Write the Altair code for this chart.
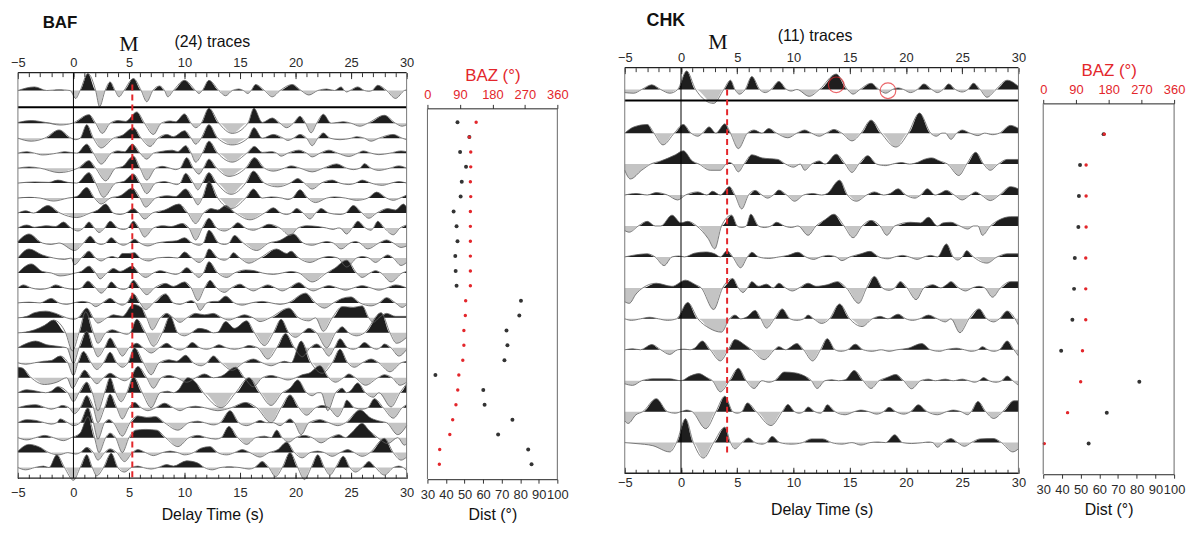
import altair as alt
import pandas as pd

FONT = "Liberation Sans"
SERIF = "Liberation Serif"
RED = "#e3262b"
POS_FILL = "#1e1e1e"
NEG_FILL = "#c4c4c4"
OUTLINE = "#5e5e5e"

TIME_MIN, TIME_MAX = -5, 30
TIME_MAJOR = list(range(-5, 31, 5))
TIME_MINOR = list(range(-5, 31, 1))
DIST_TICKS = list(range(30, 101, 10))
BAZ_TICKS = [0, 90, 180, 270, 360]

BAF_M_TIME = 5.3
CHK_M_TIME = 4.1

# ---------------- BAF: stacked trace + 24 traces (time s, amplitude in trace spacings)
BAF_STACK = [(-5,0),(-3.5,0.24),(-2.4,0),(-1.3,0.05),(-0.3,0),(0.2,-0.53),(0.6,0),(1.3,1.13),(2.0,0),(2.35,-1.08),(2.85,0),(3.3,0.57),(3.75,0),(4.1,-0.42),(4.55,0),(5.4,0.8),(6.1,0),(6.6,-0.75),(7.15,0),(7.75,0.3),(8.2,0),(8.5,-0.42),(9.0,0),(10.0,0.68),(11.0,0),(11.3,-0.2),(11.6,0),(12.2,0.68),(13.1,0),(13.7,-0.35),(14.3,0),(14.9,0.1),(15.3,0),(15.7,-0.2),(16.0,0),(16.4,0.4),(17.2,0),(17.9,-0.42),(18.6,0),(19.7,0.4),(20.5,0),(21.2,-0.3),(22.0,0),(22.8,0.1),(23.5,0),(24.1,0.24),(24.4,0),(24.6,-0.1),(24.9,0),(25.6,0.24),(26.2,0),(26.6,-0.05),(26.9,0),(27.4,0.35),(28.2,0),(29.0,-0.53),(29.8,0),(30,0.05)]
BAF_R01 = [(-5,0.05),(-3.8,0.18),(-2.5,0.05),(-1.2,-0.12),(-0.1,0),(1.4,0.57),(2.0,0),(2.6,-0.68),(3.3,0),(4.0,0.18),(4.7,0.12),(5.7,0.75),(6.4,0),(7.2,-0.75),(7.9,0),(8.7,0.15),(9.2,0.1),(10.0,0.62),(10.6,0),(11.0,-0.3),(11.5,0),(12.2,1.0),(13.1,0),(14.3,-0.68),(15.7,0),(16.25,1.0),(17.0,0.05),(17.9,0.35),(18.6,0),(19.2,-0.3),(19.8,0),(20.4,0.46),(20.9,0),(21.4,-0.64),(21.9,0),(22.5,0.6),(23.2,0),(24.3,0.1),(25.0,0),(25.8,-0.2),(26.5,0),(28.0,0.53),(29.0,0),(29.6,-0.2),(30,-0.1)]
BAF_R02 = [(-5,0),(-3.8,-0.2),(-2.6,0),(-1.3,0.55),(-0.2,0),(0.2,-0.1),(0.6,0),(1.2,0.9),(1.8,0),(2.5,-0.65),(3.6,0),(4.4,0.2),(5.4,0.7),(6.1,0),(6.9,-0.55),(7.6,0),(8.4,0.25),(9.0,0.1),(10.0,0.5),(10.6,0),(11.0,-0.4),(11.5,0),(12.2,0.9),(13.0,0),(14.3,-0.45),(15.7,0),(16.25,0.7),(17.0,0),(18.0,0.25),(18.9,0),(19.3,-0.15),(19.8,0),(20.4,0.25),(21.0,0),(21.5,-0.5),(22.0,0),(22.5,0.35),(23.1,0),(24.0,-0.1),(25.0,0),(25.5,0.1),(26.2,0),(26.8,-0.2),(27.5,0),(28.8,0.25),(29.6,0),(30,-0.1)]
BAF_R03 = [(-5,0),(-4.2,0.1),(-3.5,0),(-2.8,-0.12),(-1.5,0),(-0.8,0.1),(0.3,0),(1.2,0.6),(1.8,0),(2.5,-0.73),(3.4,0),(4.0,0.15),(4.6,0.1),(5.3,0.6),(6.0,0),(6.6,-0.4),(7.2,0),(7.8,0.1),(8.9,0.2),(9.4,0.1),(10.1,0.5),(10.6,0),(11.0,-0.6),(11.6,0),(12.2,0.8),(13.0,0),(14.3,-0.6),(15.6,0),(16.3,0.45),(17.0,0.05),(17.9,0.1),(18.3,0),(18.7,-0.2),(19.3,0),(20.3,0.2),(21.0,0),(21.5,-0.25),(22.2,0),(23.0,0.2),(23.8,0),(24.8,-0.22),(25.6,0),(26.1,0.15),(26.8,0),(27.5,-0.1),(28.5,0),(29.5,0.15),(30,0.1)]
BAF_R04 = [(-5,0),(-4,0.08),(-3,0),(-1.3,-0.3),(0.4,0),(1.4,0.5),(2.0,0),(2.9,-0.85),(3.8,0),(4.4,0.1),(5.4,0.8),(6.0,0),(6.6,-0.8),(7.4,0),(8.0,0.12),(8.7,0),(9.2,-0.1),(9.6,0),(10.2,0.7),(10.8,0),(11.3,-0.4),(11.7,0),(12.2,0.6),(12.9,0),(14.0,-0.55),(15.5,0),(16.3,0.7),(17.2,0),(18.0,-0.2),(19.0,0),(19.6,0.15),(20.4,0),(21.5,-0.25),(22.5,0),(23.7,0.28),(24.6,0),(25.2,-0.1),(25.8,0),(26.2,0.3),(26.8,0),(27.5,-0.15),(28.5,0),(29.3,0.15),(30,0)]
BAF_R05 = [(-5,0),(-3.5,0.08),(-2.2,0.05),(-1.4,0.2),(-0.5,0.05),(0.3,0),(1.4,0.7),(2.0,0),(2.7,-0.95),(3.8,0),(4.5,0.1),(5.4,0.6),(6.0,0),(6.6,-0.7),(7.4,0),(8.2,0.1),(8.8,0),(9.3,-0.1),(9.6,0),(10.1,0.65),(10.8,0),(11.2,-0.45),(11.6,0),(12.2,0.7),(12.9,0),(14.2,-0.75),(15.5,0),(16.2,0.8),(17.2,0),(18.4,-0.25),(19.5,0),(20.2,0.3),(20.8,0),(21.5,-0.4),(22.3,0),(23.3,0.2),(24.0,0),(24.8,-0.1),(25.4,0),(26.0,0.2),(26.8,0),(27.8,-0.15),(28.6,0),(29.3,0.1),(30,0)]
BAF_R06 = [(-5,0),(-4,0.05),(-3,0),(-1.8,-0.2),(-0.5,0),(0.3,0.1),(1.2,0.7),(1.9,0),(2.5,-0.4),(3.3,0),(4.2,0.15),(5.3,0.66),(6.0,0),(6.5,-0.6),(7.4,0),(8.4,0.15),(9.2,0.1),(10.1,0.6),(10.8,0),(11.2,-0.45),(11.6,0),(12.2,1.1),(13.0,0),(14.2,-0.7),(15.5,0),(16.2,0.6),(17.0,0),(17.8,0.08),(18.8,0),(19.3,-0.1),(19.7,0),(20.4,0.55),(21.1,0),(21.8,-0.3),(22.8,0),(23.5,0.08),(24.5,0),(25.5,-0.15),(26.5,0),(27.3,0.4),(28.2,0),(28.8,-0.15),(29.4,0),(30,0.2)]
BAF_R07 = [(-5,0),(-4.3,0.15),(-3.6,0),(-2.3,0.5),(-1.2,0),(0.3,-0.3),(1.5,0),(2.2,0.2),(2.9,0.6),(3.6,0),(4.2,-0.1),(4.7,0),(5.4,0.3),(5.9,0),(6.4,-0.4),(7.1,0),(8.2,0.2),(9.5,0.6),(10.3,0),(11.0,-0.7),(11.7,0),(12.4,0.3),(13.0,0.2),(13.7,0.5),(14.6,0),(15.9,-0.45),(17.2,0),(18.0,0.35),(18.7,0),(19.2,-0.1),(19.6,0),(20.1,0.3),(20.7,0),(21.3,-0.4),(21.8,0),(22.3,0.3),(23.0,0),(24.0,-0.1),(24.5,0),(25.2,0.5),(26.0,0),(26.6,-0.35),(27.3,0),(28.3,0.3),(29.0,0.2),(29.7,0.6),(30,0.4)]
BAF_R08 = [(-5,0),(-4.2,0.2),(-3.5,0.05),(-2.5,0.15),(-1.6,0.1),(-0.9,0.4),(-0.2,0),(0.4,-0.2),(0.9,0),(1.4,0.4),(1.9,0),(2.3,-0.3),(2.8,0),(3.3,0.45),(4.0,0),(4.5,-0.1),(4.9,0),(5.4,0.45),(5.9,0),(6.4,-0.6),(7.2,0),(8.0,0.15),(8.8,0.1),(9.8,0.3),(10.4,0),(11.0,-0.8),(11.6,0),(12.2,0.65),(12.9,0),(13.6,-0.2),(14.2,0),(14.8,0.35),(15.5,0),(16.2,-0.15),(16.8,0),(17.6,0.25),(18.6,0),(19.5,-0.5),(20.2,0),(21.0,0.15),(22.0,0.1),(22.8,0),(23.4,-0.1),(23.8,0),(24.0,0),(24.6,-0.4),(25.1,0),(25.6,0.45),(26.3,0),(26.8,-0.15),(27.0,0),(27.4,0.45),(28.0,0),(28.8,-0.45),(29.4,0),(30,0.2)]
BAF_R09 = [(-5,0.1),(-4.0,0.6),(-2.8,0),(-2.0,-0.1),(-1.3,0),(0.1,-0.5),(0.9,0),(1.5,0.45),(2.1,0),(2.5,-0.1),(2.9,0),(3.4,0.35),(4.0,0),(4.5,-0.15),(5.0,0),(5.5,0.25),(6.0,0),(6.7,-0.2),(7.5,0),(8.5,0.1),(9.3,0.15),(10.0,0.35),(10.7,0),(11.3,-0.15),(11.7,0),(12.2,0.85),(13.1,0),(13.6,-0.1),(14.0,0),(14.5,0.5),(15.3,0),(16.5,-0.5),(17.6,0),(18.5,0.15),(19.8,0.6),(20.7,0),(21.5,-0.15),(22.2,0),(22.8,0.1),(23.4,0),(24.1,-0.4),(24.9,0),(25.4,0.1),(25.8,0),(26.5,-0.4),(27.5,0),(28.2,0.2),(28.8,0),(29.5,-0.3),(30,-0.2)]
BAF_R10 = [(-5,0),(-4.0,0.6),(-2.8,0.2),(-1.8,0),(-0.8,-0.1),(-0.2,0),(0.1,-0.45),(0.7,0),(1.4,0.45),(2.0,0),(2.5,-0.2),(3.0,0),(3.5,0.1),(4.0,0),(4.4,0.3),(5.0,0.3),(5.5,0.35),(6.0,0),(6.8,-0.2),(7.5,0),(8.6,0.05),(9.4,0),(10.0,0.4),(10.7,0),(11.3,-0.3),(11.8,0),(12.2,0.6),(13.0,0),(13.6,-0.15),(14.0,0),(14.4,0.35),(15.0,0),(15.8,-0.35),(16.8,0),(18.3,0.6),(19.2,0.3),(19.6,0.45),(20.3,0),(21.3,-0.3),(22.3,0),(23.0,0.1),(23.8,0),(24.6,-0.6),(25.5,0),(26.0,0.1),(26.6,0),(27.2,-0.3),(27.8,0),(28.3,0.2),(28.8,0),(29.5,-0.5),(30,-0.3)]
BAF_R11 = [(-5,0),(-3.8,0.6),(-2.8,0.1),(-2.0,0),(-1.2,-0.2),(0.2,0),(0.7,0.1),(1.4,0.45),(2.0,0),(2.4,-0.4),(3.0,0),(3.6,0.3),(4.2,0.1),(5.3,0.45),(5.9,0),(6.5,-0.3),(7.2,0),(7.8,0.15),(8.6,0),(9.2,-0.1),(9.6,0),(10.2,0.35),(10.8,0),(11.3,-0.3),(11.7,0),(12.2,0.75),(13.0,0),(13.8,-0.3),(14.5,0),(15.5,0.2),(16.3,0.15),(17.0,0),(18.0,-0.1),(18.8,0),(19.6,0.1),(20.3,0),(21.5,-0.6),(22.8,0),(23.5,0.3),(24.6,0.85),(25.5,0),(26.0,-0.3),(26.7,0),(27.2,0.15),(27.7,0),(28.6,-0.6),(29.6,0),(30,0.1)]
BAF_R12 = [(-5,0),(-4.5,0.2),(-3.8,0),(-3.0,-0.1),(-2.2,0),(-1.6,0.2),(-0.8,0),(0.2,-0.1),(0.7,0),(1.3,0.45),(2.0,0),(2.5,-0.35),(3.0,0),(3.4,0.4),(4.0,0),(4.5,-0.1),(4.9,0),(5.4,0.5),(6.0,0),(6.6,-0.45),(7.3,0),(8.3,0.3),(9.0,0.1),(10.0,0.4),(10.6,0),(11.2,-0.85),(11.8,0),(12.3,0.5),(12.9,0),(13.6,-0.3),(14.2,0),(15.0,0.25),(15.6,0),(16.2,-0.2),(16.8,0),(17.5,0.2),(18.2,0),(18.8,-0.2),(19.4,0),(20.3,0.35),(21.0,0),(21.6,-0.2),(22.3,0),(23.0,0.15),(23.8,0),(24.5,-0.15),(25.2,0),(26.0,0.15),(26.8,0),(27.5,-0.15),(28.2,0),(29.0,0.2),(30,0)]
BAF_R13 = [(-5,0),(-4.0,0.05),(-3.0,0),(-2.0,0.3),(-1.3,0),(-0.6,-0.1),(0,0),(0.8,0.1),(1.5,0),(2.0,-0.25),(2.6,0),(3.3,0.3),(3.9,0),(4.4,-0.15),(4.8,0),(5.4,0.6),(6.0,0),(6.5,-0.45),(7.2,0),(8.3,0.6),(9.0,0),(9.6,-0.1),(10.0,0),(10.6,0.15),(11.0,0),(11.4,-0.5),(12.0,0),(12.6,0.1),(13.0,0.1),(13.7,0.45),(14.5,0),(15.2,-0.15),(16.0,0),(17.0,0.1),(17.8,0),(18.6,-0.1),(19.3,0),(20.9,0.65),(21.8,0),(22.6,-0.35),(23.4,0),(24.2,0.3),(25.0,0.4),(25.8,0),(26.8,-0.2),(27.5,0),(28.2,0.35),(29.0,0),(29.6,-0.3),(30,-0.1)]
BAF_R14 = [(-5,0),(-4.2,0.1),(-3.5,0.35),(-2.5,0.45),(-1.6,0.3),(-0.6,0),(0.0,-0.1),(0.4,0),(1.2,0.65),(1.8,0),(2.2,-0.35),(3.0,0),(3.6,0.2),(4.4,0.1),(5.4,0.9),(6.1,0.7),(6.6,0),(7.1,-0.8),(7.8,0),(8.4,0.3),(9.0,0),(9.6,-0.3),(10.2,0),(11.0,0.3),(11.8,0.2),(12.6,0.3),(13.4,0),(14.0,-0.15),(14.6,0),(15.4,0.2),(16.2,0),(16.8,-0.25),(17.7,0),(19.4,0.65),(20.3,0),(21.2,-0.2),(21.8,0),(22.5,-0.9),(23.3,0),(24.2,0.75),(25.2,0.7),(26.0,0.8),(26.6,0),(27.0,-0.3),(27.5,0),(28.2,0.3),(29.0,0.1),(30,0.1)]
BAF_R15 = [(-5,0),(-4.3,0.05),(-3.5,0.2),(-2.6,0.5),(-1.8,0.85),(-0.7,0),(-0.1,-1.2),(0.5,0),(1.1,1.4),(1.8,0),(2.2,-0.7),(2.9,0),(3.5,0.2),(4.3,0),(4.8,-0.1),(5.1,0),(5.7,0.9),(6.5,0),(7.2,-0.9),(8.0,0),(8.7,1.1),(9.4,0),(10.0,-0.2),(10.6,0),(11.3,0.3),(12.0,0.2),(12.6,0),(13.0,0.05),(13.7,0.75),(14.5,0.3),(15.6,0.8),(16.3,0),(17.2,-0.85),(18.0,0),(18.7,0.9),(19.4,0),(20.0,-0.3),(20.6,0),(21.2,0.3),(21.9,0),(22.8,-1.0),(23.6,0),(24.2,0.4),(24.8,0),(25.5,-0.2),(26.2,0),(27.7,1.35),(28.5,0),(29.1,-0.7),(30,-0.3)]
BAF_R16 = [(-5,0),(-4.2,0.3),(-3.4,0.45),(-2.4,0.2),(-1.4,0.1),(-0.6,0),(0.0,-1.05),(0.5,0),(1.2,1.1),(1.8,0),(2.2,-0.6),(2.8,0),(3.3,0.65),(3.9,0),(4.4,-0.55),(5.0,0),(5.7,0.3),(6.3,0),(7.0,-0.35),(7.7,0),(8.4,0.3),(9.0,0),(9.6,-0.15),(10.1,0),(10.7,0.35),(11.4,0),(12.0,-0.1),(12.5,0),(13.1,0.2),(13.8,0),(14.5,-0.1),(15.2,0),(15.8,0.15),(16.6,0),(17.5,-0.75),(18.3,0),(19.1,0.95),(19.9,0),(20.6,-0.6),(21.3,0),(21.9,0.25),(22.4,0),(23.0,-0.55),(23.5,0),(24.0,0.6),(24.7,0),(25.2,-0.1),(25.6,0),(26.2,0.35),(26.9,0),(27.3,-0.1),(27.6,0),(28.0,0.25),(28.6,0),(29.3,-0.55),(30,-0.1)]
BAF_R17 = [(-5,0),(-4.3,-0.1),(-3.5,0),(-2.7,0.1),(-2.0,0.15),(-1.2,0.45),(-0.5,0),(0.0,-0.85),(0.4,0),(0.9,0.75),(1.6,0),(2.1,-0.45),(2.7,0),(3.3,0.7),(3.9,0),(4.4,-0.3),(4.9,0),(5.5,1.0),(6.3,0),(7.0,-0.8),(7.7,0),(8.6,0.2),(9.3,0.1),(10.1,0.5),(10.8,0),(11.5,-0.2),(12.0,0),(12.6,0.45),(13.3,0),(14.3,-0.5),(15.3,0),(16.2,0.25),(17.0,0),(17.8,-0.2),(18.5,0),(19.0,0.1),(19.6,0),(20.5,1.45),(21.4,0),(22.4,-0.7),(23.3,0),(24.0,0.9),(24.7,0),(25.3,-0.3),(26.0,0),(26.8,0.25),(27.5,0),(28.5,-0.6),(29.5,0),(30,0.1)]
BAF_R18 = [(-5,0.7),(-4.6,0.65),(-3.8,0),(-2.6,-0.45),(-1.5,-0.3),(-0.6,0),(-0.1,-0.7),(0.5,0),(1.0,0.5),(1.6,0),(2.1,-0.4),(2.7,0),(3.3,0.3),(4.0,0),(4.6,-0.2),(5.1,0),(5.8,0.75),(6.6,0),(7.2,-0.7),(7.9,0),(8.6,0.15),(9.3,0),(10.2,-0.3),(11.0,0),(11.8,0.25),(12.6,0),(13.3,0.1),(14.6,0.7),(15.4,0),(16.2,-0.6),(17.0,0),(17.8,0.15),(18.6,0),(19.3,-0.15),(20.0,0),(20.6,0.2),(21.2,0.3),(22.2,0.8),(23.0,0),(23.6,-0.3),(24.3,0),(24.8,0.25),(25.4,0),(26.3,-0.5),(27.4,0),(28.0,0.2),(28.7,0),(29.4,-0.5),(30,-0.3)]
BAF_R19 = [(-5,0),(-4.2,0.2),(-3.3,0.1),(-2.5,0),(-2.0,0.1),(-1.4,0.4),(-0.5,0),(0.0,-0.6),(0.5,0),(1.2,0.7),(1.7,0),(2.2,-1.2),(2.8,0),(3.3,1.0),(3.8,0),(4.3,-0.6),(4.8,0),(5.4,1.05),(6.2,0),(7.0,-1.0),(7.8,0),(8.5,0.1),(9.0,0),(9.4,0.15),(10.3,1.0),(11.0,0.7),(11.7,0),(13.3,-1.0),(14.6,0),(15.8,1.0),(16.8,0),(17.8,-0.85),(18.8,0),(19.5,0.3),(20.2,0.85),(21.0,0),(21.5,-0.2),(22.0,0),(22.3,0),(22.9,-1.2),(23.6,0),(24.2,0.3),(24.6,0),(24.9,0.1),(25.6,0.65),(26.3,0),(27.0,-0.3),(27.5,0),(28.6,-0.95),(29.4,0),(30,0.6)]
BAF_R20 = [(-5,0),(-4.2,0.15),(-3.4,0.2),(-2.5,0),(-2.0,-0.1),(-1.5,0),(-1.0,0.15),(-0.4,0),(0.1,-0.4),(0.6,0),(1.2,0.8),(1.8,0),(2.2,-1.0),(2.8,0),(3.3,0.9),(3.9,0),(4.4,-0.75),(5.0,0),(5.5,0.35),(6.1,0),(6.7,-0.2),(7.4,0),(8.2,0.3),(9.0,0),(9.6,-0.2),(10.2,0),(11.0,0.1),(11.8,0),(13.0,-0.2),(14.2,0),(15.5,0.35),(16.5,0),(17.8,-1.0),(18.7,0),(19.5,0.85),(20.3,0),(21.0,-0.5),(21.8,0),(22.4,0.15),(23.0,0),(23.8,-0.6),(24.3,0),(24.6,0.5),(25.3,0),(26.0,-0.1),(26.5,0),(27.1,0.6),(27.9,0),(28.8,-0.7),(29.6,0),(30,0.2)]
BAF_R21 = [(-5,0),(-4.2,0.2),(-3.4,0.15),(-2.6,0),(-2.0,-0.1),(-1.5,0),(-1.2,0.25),(-0.5,0),(0.0,-0.2),(0.6,0),(1.3,1.0),(1.8,0),(2.2,-1.1),(2.8,0),(3.2,0.2),(3.6,0),(4.4,-0.9),(5.1,0),(5.8,0.45),(6.6,0.35),(7.4,0.4),(8.2,0),(9.4,-0.5),(10.4,0),(11.2,0.1),(11.8,0),(12.6,-0.15),(13.2,0),(14.1,0.8),(14.9,0),(15.6,-0.2),(16.3,0),(16.8,0.15),(17.4,0),(18.0,0),(18.6,-0.2),(19.0,0),(19.5,0.25),(19.9,0),(20.5,-0.8),(21.2,0),(22.2,0.2),(23.0,0),(23.8,-0.2),(24.5,0),(25.8,0.85),(26.8,0.3),(27.6,0.1),(28.2,0),(29.2,-0.8),(30,-0.2)]
BAF_R22 = [(-5,0),(-4.2,-0.15),(-3.4,0),(-2.6,0.15),(-1.8,0),(-0.9,-0.2),(-0.2,0),(0.6,0.3),(1.3,1.4),(1.9,0),(2.3,-1.0),(2.9,0),(3.3,0.3),(3.8,0),(4.4,-1.0),(5.0,0),(5.6,0.5),(6.5,0.55),(7.5,0.5),(8.3,0),(9.4,-0.6),(10.4,0),(11.2,0.15),(12.0,0),(12.8,-0.1),(13.3,0),(14.0,0.75),(14.8,0),(15.6,-0.45),(16.4,0),(17.2,0.1),(17.8,0),(18.3,0.5),(18.8,0),(19.4,-0.3),(20.0,0),(20.8,0.15),(21.5,0),(22.3,-0.35),(23.1,0),(23.9,0.2),(24.5,0),(25.0,0.3),(26.0,0.95),(26.6,0.5),(27.4,0),(28.3,-0.4),(29.2,0),(29.8,-0.5),(30,-0.4)]
BAF_R23 = [(-5,0.1),(-4.0,0.55),(-3.0,0.35),(-2.2,0),(-1.3,-0.15),(-0.5,0),(0.2,-0.1),(0.6,0),(1.2,0.35),(1.8,0),(2.2,-0.5),(2.8,0),(3.3,0.25),(3.9,0),(4.6,-0.6),(5.3,0),(5.8,0.2),(6.5,0),(7.2,-0.2),(8.0,0),(8.7,0.1),(9.4,0),(10.0,-0.15),(10.8,0),(11.5,0.3),(12.3,0.4),(13.0,0),(13.8,-0.15),(14.5,0),(15.2,0.2),(15.9,0),(16.8,-0.3),(17.6,0),(18.4,0.2),(19.2,0.7),(19.9,0),(20.6,-0.35),(21.3,0),(22.0,0.1),(22.6,0),(23.3,-0.25),(24.0,0),(24.7,0.2),(25.3,0),(26.0,-0.25),(26.7,0),(28.0,0.95),(28.8,0),(29.5,-0.5),(30,-0.3)]
BAF_R24 = [(-5,0),(-4.3,-0.15),(-3.5,0),(-2.7,0.1),(-2.2,0),(-1.5,0.85),(-0.8,0),(0.0,-0.85),(0.6,0),(1.2,0.85),(1.7,0),(2.1,-0.55),(2.7,0),(3.4,0.95),(4.0,0),(4.6,-0.3),(5.2,0),(5.8,0.1),(6.3,0),(7.0,-0.1),(7.6,0),(8.4,0.2),(9.0,0.1),(10.2,0.45),(11.2,0.3),(11.8,0),(12.5,-0.15),(13.2,0),(14.0,0.05),(15.0,0),(15.8,-0.1),(16.3,0),(17.0,0.4),(17.6,0),(18.2,-0.6),(18.8,0),(19.5,1.0),(20.2,0),(20.8,-0.8),(21.4,0),(22.0,0.85),(22.6,0),(23.1,-0.5),(23.6,0),(24.3,0.75),(24.9,0),(25.4,-0.3),(26.0,0),(26.6,0.4),(27.2,0),(28.0,-0.5),(28.8,0),(29.3,0.1),(29.7,0),(30,-0.2)]
BAF_TRACES = [BAF_R01, BAF_R02, BAF_R03, BAF_R04, BAF_R05, BAF_R06, BAF_R07, BAF_R08,
              BAF_R09, BAF_R10, BAF_R11, BAF_R12, BAF_R13, BAF_R14, BAF_R15, BAF_R16,
              BAF_R17, BAF_R18, BAF_R19, BAF_R20, BAF_R21, BAF_R22, BAF_R23, BAF_R24]

# ---------------- CHK: stacked trace + 11 traces
CHK_STACK = [(-5,-0.1),(-4.2,-0.12),(-3.5,0),(-2.6,0.15),(-1.8,0),(-1.0,-0.12),(-0.3,0),(0.5,0.6),(1.3,0),(2.9,-0.45),(3.8,0),(4.4,0.3),(4.8,0),(5.2,-0.15),(5.7,0),(6.3,0.42),(7.0,0),(7.5,-0.1),(8.0,0),(8.7,0.26),(9.4,0),(9.8,-0.05),(10.3,0),(11.4,-0.22),(12.3,0),(13.8,0.5),(14.8,0),(15.3,-0.15),(15.9,0),(16.9,0.2),(17.6,0),(18.2,-0.12),(18.8,0),(19.3,0.05),(19.8,0),(20.4,-0.1),(21.0,0),(21.6,0.18),(22.3,0),(22.8,-0.1),(23.3,0),(23.8,0.18),(24.4,0),(25.0,-0.08),(25.5,0),(26.0,0.2),(26.6,0),(27.2,-0.25),(28.0,0),(29.0,0.3),(30,0.1)]
CHK_R01 = [(-5,0),(-4.2,0.2),(-3.0,0.28),(-2.4,0),(-1.6,-0.38),(-0.6,0),(0.2,0.28),(0.9,0),(1.5,-0.1),(1.9,0),(2.5,0.2),(3.1,0),(3.9,0.3),(4.4,0),(5.1,-0.5),(5.9,0),(6.5,0.1),(7.2,0),(7.8,0.15),(8.5,0),(9.5,-0.15),(10.3,0),(11.0,0.1),(11.6,0),(12.3,-0.1),(12.9,0),(13.6,0.12),(14.3,0),(15.2,-0.25),(16.0,0),(16.9,0.42),(17.8,0),(19.1,-0.45),(20.2,0),(21.2,0.65),(22.2,0),(22.7,-0.1),(23.2,0),(23.5,0),(24.0,-0.2),(24.5,0),(25.0,0.1),(25.7,0),(26.4,-0.08),(27.0,0),(27.7,-0.05),(28.3,0),(29.3,0.25),(30,0.15)]
CHK_R02 = [(-5,-0.2),(-4.5,-0.48),(-3.5,-0.2),(-2.7,0),(-1.8,0.1),(-0.5,0.3),(0.2,0.43),(1.0,0.1),(1.6,0),(2.6,-0.2),(3.5,-0.2),(4.0,0),(4.3,0.05),(4.6,0),(5.1,-0.25),(5.6,0),(6.3,0.3),(7.2,0.2),(8.6,0.15),(9.3,0),(10.0,-0.1),(10.6,0),(11.0,-0.2),(11.6,0),(12.3,0.1),(12.8,0),(13.8,0.32),(14.6,0),(15.2,-0.27),(15.8,0),(16.6,0.27),(17.4,0),(18.2,-0.05),(18.8,0),(19.6,0.05),(20.3,0),(21.0,0.05),(21.6,0.15),(22.3,0.2),(23.0,0.1),(23.7,0),(24.7,-0.37),(25.4,0),(26.2,0.38),(26.9,0),(27.5,-0.2),(28.2,0),(29.0,0.15),(30,0.15)]
CHK_R03 = [(-5,0),(-4.0,0.05),(-3.0,0),(-2.2,0.08),(-1.2,0),(-0.3,-0.16),(0.4,0),(1.5,0.1),(2.3,0),(2.8,0.12),(3.5,0),(4.3,0.27),(4.8,0),(5.4,-0.45),(6.0,0),(6.6,0.15),(7.2,0),(7.7,-0.1),(8.2,0),(8.7,0.16),(9.4,0),(10.1,-0.2),(10.9,0),(11.7,0.05),(12.5,0),(13.0,0.05),(14.1,0.48),(14.8,0),(15.6,-0.2),(16.5,0),(17.2,0.1),(18.0,0),(18.6,0.05),(19.3,0.2),(20.0,0),(20.8,-0.1),(21.3,0),(21.9,0.2),(22.6,0),(23.0,0.05),(23.6,0.15),(24.3,0),(25.0,-0.16),(25.7,0),(26.2,0.1),(26.7,0),(27.5,-0.18),(28.3,0),(29.3,0.27),(30,0.2)]
CHK_R04 = [(-5,-0.15),(-4.6,-0.2),(-3.8,0),(-3.0,0.15),(-2.3,0),(-1.8,0),(-0.8,0.35),(0,0.1),(0.6,0.15),(1.4,0),(2.4,-0.4),(3.0,-0.74),(3.6,0),(4.5,0.35),(5.0,0),(5.4,-0.05),(5.8,0),(6.2,0.38),(6.9,0),(7.4,-0.05),(8.0,0),(8.5,0.12),(9.2,0),(9.8,-0.05),(10.4,0),(11.3,-0.3),(12.0,0),(12.8,0.2),(13.6,0.38),(14.5,0),(15.3,-0.38),(16.1,0),(16.9,0.18),(17.7,0),(18.3,-0.3),(19.0,0),(20.4,0.12),(21.3,0.1),(22.0,0.28),(22.8,0),(23.3,0.1),(24.0,0.12),(24.8,0),(25.5,-0.1),(26.0,0),(26.4,0),(26.8,-0.3),(27.5,0),(28.3,0.2),(29.3,0.3),(30,0.3)]
CHK_R05 = [(-5,0),(-4.3,0.05),(-3.0,0.1),(-2.3,0),(-1.5,-0.28),(-0.8,0),(-0.2,0.03),(0.3,0),(1.2,0.12),(2.2,0.16),(3.0,0.1),(3.5,0),(4.1,0.2),(4.6,0),(5.3,-0.35),(5.9,0),(6.3,0.15),(6.9,0),(7.8,-0.05),(8.7,0),(9.5,0.05),(10.4,0.15),(11.1,0),(11.8,-0.08),(12.4,0),(13.1,0.05),(13.8,0),(14.3,-0.12),(15.0,0),(16.0,0.1),(16.8,0.18),(17.6,0),(18.4,-0.06),(19.0,0),(19.7,0.05),(20.3,0),(21.0,-0.08),(21.6,0),(22.2,0.05),(22.8,0),(23.6,0.42),(24.2,0),(24.6,-0.1),(25.0,0),(25.4,0.2),(26.0,0),(27.2,-0.2),(28.1,0),(29.0,0.1),(30,0.1)]
CHK_R06 = [(-5,-0.45),(-4.6,-0.5),(-4.0,-0.2),(-3.4,0),(-2.2,0.15),(-0.8,0.05),(0.4,0.25),(1.3,0.1),(1.8,0),(2.9,-0.7),(3.7,0),(4.6,0.3),(5.1,0),(5.5,-0.15),(5.9,0),(6.3,0.2),(6.9,0.05),(7.6,0.12),(8.2,0),(8.7,0.15),(9.3,0),(9.9,-0.1),(10.5,0),(11.3,0.15),(12.0,0.05),(13.0,0.1),(13.9,0.2),(14.7,0),(15.8,-0.5),(16.5,0),(17.2,0.37),(17.9,0),(18.5,-0.08),(19.0,0),(19.5,0.2),(20.1,0),(20.9,-0.38),(21.6,0),(22.4,0.1),(23.1,0),(23.6,0.1),(24.0,0.2),(24.7,0),(25.3,-0.1),(25.9,0),(26.5,0.05),(27.0,0),(27.7,-0.3),(28.4,0),(29.3,0.2),(30,0.2)]
CHK_R07 = [(-5,0),(-4.4,-0.05),(-3.6,0),(-2.8,0.05),(-2.0,0),(-1.2,-0.05),(-0.4,0),(0.6,0.53),(1.5,0),(2.5,-0.3),(3.6,-0.43),(4.3,0),(4.8,0.12),(5.3,0),(5.8,0.05),(6.6,0.27),(7.1,0),(7.6,-0.3),(8.3,0),(9.0,0.32),(9.7,0),(10.3,-0.05),(10.9,0),(11.3,0.12),(11.8,0),(12.5,-0.15),(13.2,0),(14.1,0.48),(15.0,0),(16.1,-0.25),(17.0,0),(17.7,0.08),(18.4,0),(19.3,0.15),(20.0,0),(20.6,-0.05),(21.2,0),(22.0,0.12),(22.8,0),(23.5,-0.1),(24.0,0),(24.8,-0.45),(25.6,0),(26.5,0.32),(27.2,0),(27.8,-0.1),(28.3,0),(29.0,0.25),(29.7,0),(30,-0.2)]
CHK_R08 = [(-5,0),(-4.3,0.03),(-3.6,0),(-2.6,0.17),(-1.8,0),(-1.0,-0.15),(-0.3,0),(0.3,0.02),(0.8,0),(1.2,0.05),(1.9,0.28),(2.6,0),(3.5,-0.36),(4.2,0),(4.8,0.33),(5.7,0.15),(6.3,0),(7.4,-0.32),(8.3,0),(8.7,0.1),(9.3,0),(9.6,0.05),(10.3,0.2),(10.9,0),(11.7,-0.36),(12.4,0),(13.0,0.36),(13.7,0),(14.2,-0.05),(14.8,0),(15.5,0.18),(16.2,0),(17.0,-0.05),(17.8,0),(18.5,-0.05),(19.2,0),(20.2,0.05),(21.4,0.2),(22.2,0),(23.0,-0.05),(23.5,0),(24.5,0.05),(25.2,0),(25.8,-0.05),(26.4,0),(26.8,0.1),(27.3,0),(27.8,-0.05),(28.3,0),(29.0,0.28),(29.6,0),(30,-0.2)]
CHK_R09 = [(-5,-0.1),(-4.3,-0.15),(-3.5,0),(-2.5,0.06),(-1.0,0.06),(0,0),(0.8,0.15),(1.6,0.23),(2.3,0.1),(2.8,0),(3.5,-0.36),(4.3,0),(5.1,0.4),(5.8,0),(6.5,-0.25),(7.2,0),(7.8,-0.05),(8.3,0),(9.2,0.28),(10.2,0.25),(11.0,0.15),(11.6,0),(12.1,-0.25),(12.8,0),(13.4,0.03),(14.0,0),(14.6,0.03),(15.4,0.33),(16.2,0),(16.9,-0.25),(17.6,0),(18.3,0.1),(19.1,0.2),(19.8,0),(20.5,-0.26),(21.3,0),(22.0,0.05),(22.6,0),(23.5,0.05),(24.2,0),(25.0,0.05),(25.6,0),(26.1,-0.05),(26.5,0),(26.9,0.1),(27.4,0),(28.0,-0.05),(28.5,0),(29.0,0.15),(29.5,0),(30,-0.15)]
CHK_R10 = [(-5,-0.3),(-4.7,-0.38),(-4.0,-0.1),(-3.4,0),(-2.2,0.42),(-1.2,0),(-0.5,-0.05),(0,0),(0.5,0.05),(1.0,0),(2.2,-0.55),(3.1,0),(3.9,0.5),(4.6,0),(5.0,-0.05),(5.4,0),(5.9,0.28),(6.7,0),(8.0,-0.45),(9.0,0),(9.5,0.23),(10.1,0),(10.5,-0.05),(10.9,0),(11.3,0.15),(11.9,0),(12.4,-0.05),(12.6,0),(13.0,0.22),(13.7,0),(14.6,-0.1),(15.4,0),(16.0,0.05),(16.7,0),(17.4,-0.08),(18.0,0),(18.5,0.14),(19.1,0),(19.8,-0.08),(20.4,0),(21.1,0.22),(21.9,0),(22.8,-0.1),(23.6,0),(24.2,0.05),(24.9,0),(25.5,-0.1),(25.8,0),(26.4,0.33),(27.1,0),(27.8,-0.22),(28.6,0),(29.6,0.35),(30,0.35)]
CHK_R11 = [(-5,0),(-4.0,-0.03),(-2.5,-0.1),(-1.0,-0.3),(-0.4,0),(0.4,0.77),(1.1,0),(2.0,-0.5),(2.9,0),(3.9,0.5),(4.4,0),(4.8,-0.2),(5.4,0),(6.0,0.15),(6.6,0),(7.2,-0.05),(7.6,0),(8.1,0.2),(8.8,0),(9.8,-0.05),(10.8,0),(11.6,0.12),(12.6,0.12),(13.4,0),(14.3,-0.05),(15.2,0),(16.0,-0.08),(16.8,0),(17.5,0.02),(18.2,0),(19.0,0.25),(19.7,0),(20.5,-0.03),(21.5,0),(22.0,0.02),(22.4,0),(22.8,-0.15),(23.3,0),(24.0,0.13),(24.6,0),(25.2,-0.12),(25.8,0),(26.6,0.12),(27.8,0.13),(28.5,0),(29.5,-0.3),(30,-0.2)]
CHK_TRACES = [CHK_R01, CHK_R02, CHK_R03, CHK_R04, CHK_R05, CHK_R06,
              CHK_R07, CHK_R08, CHK_R09, CHK_R10, CHK_R11]

# circled phases on the CHK stacked trace
CHK_CIRCLE_T = [13.8, 18.4]
CHK_CIRCLE_A = [0.15, -0.04]

# ---------------- event distance / back-azimuth per trace
BAF_DIST = [46.2, 52.6, 47.6, 50.8, 48.5, 47.9, 44.1, 45.7, 46.2, 45.0, 45.2, 45.7,
            80.4, 79.5, 72.6, 73.1, 71.5, 34.3, 60.1, 60.8, 75.8, 68.1, 84.3, 86.1]
BAF_BAZ = [135, 116, 120, 120, 119, 120, 119, 119, 119, 119, 119, 119,
           106, 105, 101, 101, 98, 87, 84, 79, 70, 62, 34, 33]
CHK_DIST = [62.3, 49.7, 49.1, 48.8, 46.9, 46.5, 45.6, 39.6, 81.4, 64.0, 54.3]
CHK_BAZ = [168, 118, 118, 118, 117, 117, 117, 108, 103, 67, 3]


def base_axis(**kw):
    d = dict(grid=False, labelFont=FONT, labelFontSize=13, labelColor="#2a2a2a",
             tickColor="#333", titleFont=FONT, titleFontSize=16, titleFontWeight="normal",
             titleColor="#111", labelFlush=False, labelOverlap=False)
    d.update(kw)
    return alt.Axis(**d)


def text_layer(txt, x, y, size, font=FONT, weight="normal", align="left", color="#111"):
    return alt.Chart(pd.DataFrame({"s": [txt]})).mark_text(
        align=align, baseline="middle", fontSize=size, font=font, fontWeight=weight, color=color
    ).encode(text="s:N", x=alt.value(x), y=alt.value(y))


def trace_panel(stack, traces, m_time, g, texts, circles=None):
    W, H, ft = g["W"], g["H"], g["ft"]
    xs = alt.Scale(domain=[TIME_MIN, TIME_MAX], nice=False, zero=False)
    ys = alt.Scale(domain=[g["v_bot"], g["v_top"]], nice=False, zero=False)
    recs = []
    for k, tr in enumerate([stack] + traces):
        b = g["stack_v"] if k == 0 else -(k - 1)
        for t, a in tr:
            recs.append({"trace": k, "t": t, "base": b, "top": b + max(a, 0.0),
                         "bot": b + min(a, 0.0), "line": b + a})
    df = pd.DataFrame(recs)
    src = alt.Chart(df)

    ax_top = base_axis(orient="top", values=TIME_MAJOR, tickSize=6, offset=-(ft + 6),
                       domain=False, labelPadding=3, title=None)
    ax_top_minor = base_axis(orient="top", values=TIME_MINOR, tickSize=4, offset=-(ft + 4),
                             domain=False, labels=False, title=None)
    ax_bot = base_axis(orient="bottom", values=TIME_MAJOR, tickSize=6, offset=-6,
                       domain=False, labelPadding=g["lp"], title="Delay Time (s)",
                       titlePadding=g["tp"])
    ax_bot_minor = base_axis(orient="bottom", values=TIME_MINOR, tickSize=4, offset=-4,
                             domain=False, labels=False, title=None)

    neg = src.mark_area(color=NEG_FILL, interpolate="monotone").encode(
        x=alt.X("t:Q", scale=xs, axis=ax_top),
        y=alt.Y("bot:Q", scale=ys, axis=None), y2="base:Q", detail="trace:N")
    pos = src.mark_area(color=POS_FILL, interpolate="monotone").encode(
        x=alt.X("t:Q", scale=xs, axis=ax_bot),
        y=alt.Y("top:Q", scale=ys, axis=None), y2="base:Q", detail="trace:N")
    line = src.mark_line(color=OUTLINE, strokeWidth=0.8, interpolate="monotone").encode(
        x=alt.X("t:Q", scale=xs, axis=ax_top_minor),
        y=alt.Y("line:Q", scale=ys, axis=None), detail="trace:N")
    zero = alt.Chart(pd.DataFrame({"t": [0]})).mark_rule(color="#000", strokeWidth=1).encode(
        x=alt.X("t:Q", scale=xs, axis=ax_bot_minor), y=alt.value(ft), y2=alt.value(H))
    sep = alt.Chart(pd.DataFrame({"v": [g["sep_v"]]})).mark_rule(color="#000", strokeWidth=2).encode(
        y=alt.Y("v:Q", scale=ys, axis=None))
    mline = alt.Chart(pd.DataFrame({"t": [m_time], "v0": [g["m_v0"]], "v1": [g["m_v1"]]})).mark_rule(
        color=RED, strokeWidth=2, strokeDash=[6, 4]).encode(
        x=alt.X("t:Q", scale=xs, axis=None), y=alt.Y("v0:Q", scale=ys, axis=None), y2="v1:Q")
    one = pd.DataFrame({"k": [0]})
    f_top = alt.Chart(one).mark_rule(color="#222", strokeWidth=1.3).encode(y=alt.value(ft))
    f_bot = alt.Chart(one).mark_rule(color="#222", strokeWidth=1.3).encode(y=alt.value(H))
    f_left = alt.Chart(one).mark_rule(color="#777", strokeWidth=1).encode(
        x=alt.value(0), y=alt.value(ft), y2=alt.value(H))
    f_right = alt.Chart(one).mark_rule(color="#777", strokeWidth=1).encode(
        x=alt.value(W), y=alt.value(ft), y2=alt.value(H))
    layers = [neg, pos, line, zero, sep, mline, f_top, f_bot, f_left, f_right]
    if circles is not None:
        cdf = pd.DataFrame({"t": circles[0], "v": [g["stack_v"] + a for a in circles[1]]})
        layers.append(alt.Chart(cdf).mark_point(shape="circle", size=250, filled=False,
                                                color=RED, strokeWidth=1.2).encode(
            x=alt.X("t:Q", scale=xs, axis=None), y=alt.Y("v:Q", scale=ys, axis=None)))
    layers += texts
    return alt.layer(*layers).resolve_axis(x="independent").properties(
        width=W, height=H, view=alt.ViewBackground(stroke="transparent"))


def scatter_panel(dist, baz, g):
    W, H, at = g["W"], g["H"], g["axis_top"]
    ys = alt.Scale(domain=[g["v_bot"], g["v_top"]], nice=False, zero=False)
    sdf = pd.DataFrame({"v": [-i for i in range(len(dist))], "dist": dist, "baz": baz})
    black = alt.Chart(sdf).mark_circle(size=16, color="#333", opacity=1).encode(
        x=alt.X("dist:Q", scale=alt.Scale(domain=[30, 100], nice=False, zero=False),
                axis=base_axis(orient="bottom", values=DIST_TICKS, tickSize=4, labelPadding=5,
                               title="Dist (°)", titlePadding=6, domainColor="#222")),
        y=alt.Y("v:Q", scale=ys, axis=None))
    red = alt.Chart(sdf).mark_circle(size=12, color=RED, opacity=1).encode(
        x=alt.X("baz:Q", scale=alt.Scale(domain=[0, 360], nice=False, zero=False),
                axis=base_axis(orient="top", values=BAZ_TICKS, tickSize=4, labelPadding=3,
                               offset=-at, title="BAZ (°)", titlePadding=4, labelColor=RED,
                               titleColor=RED, titleFontSize=17, domainColor="#222")),
        y=alt.Y("v:Q", scale=ys, axis=None))
    one = pd.DataFrame({"k": [0]})
    f_left = alt.Chart(one).mark_rule(color="#666", strokeWidth=1).encode(
        x=alt.value(0), y=alt.value(at), y2=alt.value(H))
    f_right = alt.Chart(one).mark_rule(color="#666", strokeWidth=1).encode(
        x=alt.value(W), y=alt.value(at), y2=alt.value(H))
    return alt.layer(black, red, f_left, f_right).resolve_scale(x="independent").properties(
        width=W, height=H, view=alt.ViewBackground(stroke="transparent"))


BAF_GEOM = dict(W=392, H=414, ft=5, v_top=3.709, v_bot=-23.709, stack_v=2.185,
                sep_v=1.06, m_v0=2.58, m_v1=-23.709, lp=8, tp=8)
CHK_GEOM = dict(W=397, H=409, ft=0, v_top=2.115, v_bot=-10.99, stack_v=1.41,
                sep_v=1.058, m_v0=1.41, m_v1=-10.42, lp=3, tp=13)
BAF_SC_GEOM = dict(W=131, H=415, axis_top=41, v_top=3.667, v_bot=-24.0)
CHK_SC_GEOM = dict(W=132, H=410, axis_top=36, v_top=2.147, v_bot=-10.99)

baf_texts = [text_layer("BAF", 25, -45, 17, weight="bold"),
             text_layer("M", 112, -24, 22, font=SERIF, align="center"),
             text_layer("(24) traces", 196, -26, 16, align="center")]
chk_texts = [text_layer("CHK", 22, -47, 18, weight="bold"),
             text_layer("M", 94, -26, 22, font=SERIF, align="center"),
             text_layer("(11) traces", 192, -32, 16, align="center")]

baf_tr = trace_panel(BAF_STACK, BAF_TRACES, BAF_M_TIME, BAF_GEOM, baf_texts)
chk_tr = trace_panel(CHK_STACK, CHK_TRACES, CHK_M_TIME, CHK_GEOM, chk_texts,
                     circles=(CHK_CIRCLE_T, CHK_CIRCLE_A))
baf_sc = scatter_panel(BAF_DIST, BAF_BAZ, BAF_SC_GEOM)
chk_sc = scatter_panel(CHK_DIST, CHK_BAZ, CHK_SC_GEOM)

left = alt.hconcat(baf_tr, baf_sc, spacing=5)
right = alt.hconcat(chk_tr, chk_sc, spacing=9)
chart = alt.hconcat(left, right, spacing=48).properties(
    padding={"left": 2, "top": 1, "right": 0, "bottom": 0}
).configure(font=FONT)

chart.save("out.html", embed_options={"renderer": "svg", "actions": False})
